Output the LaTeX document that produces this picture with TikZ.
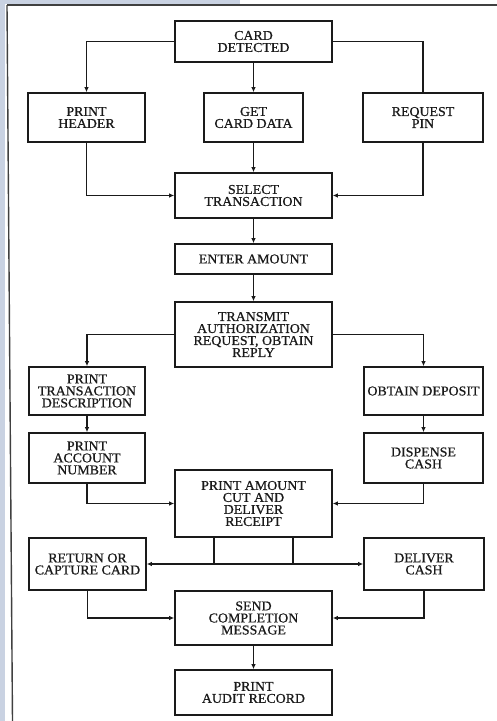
\documentclass[tikz,border=0pt]{standalone}
\usepackage{fontspec}
\newfontfamily\boxfont{Liberation Serif}[FakeBold=0.7, FakeStretch=1.03]
\usetikzlibrary{arrows.meta,calc}
\definecolor{strip}{HTML}{C9D2E2}
\definecolor{ink}{HTML}{1A1A1A}
\tikzset{
  box/.style={draw=ink, line width=1.6pt, rectangle, align=center, inner sep=0pt,
    font=\boxfont\fontsize{13.5}{12}\selectfont, text=ink},
  link/.style={draw=ink, line width=1.3pt},
  arr/.style={link, -{Latex[length=5pt,width=4.5pt]}}
}
\begin{document}
\begin{tikzpicture}[x=1pt,y=-1pt]
\useasboundingbox (0,0) rectangle (497,721);
\fill[white] (0,0) rectangle (497,721);
\fill[strip] (0,0) rectangle (5,721);
\fill[strip] (0,0) rectangle (240,4);
\draw[black!75, line width=1.4pt] (7,5) -- (497,5);
\draw[black!75, line width=1.4pt] (7,5) -- (12.5,721);

\node[box, minimum width=157pt, minimum height=41pt] (cd) at (253.5,41.5) {CARD\\DETECTED};
\node[box, minimum width=117pt, minimum height=49pt] (ph) at (86.5,117.5) {PRINT\\HEADER};
\node[box, minimum width=99pt, minimum height=49pt] (gcd) at (253.5,117.5) {GET\\CARD DATA};
\node[box, minimum width=120pt, minimum height=49pt] (rp) at (423,117.5) {REQUEST\\PIN};
\node[box, minimum width=157pt, minimum height=45pt] (st) at (253.5,195.5) {SELECT\\TRANSACTION};
\node[box, minimum width=157pt, minimum height=30pt] (ea) at (253.5,259) {ENTER AMOUNT};
\node[box, minimum width=157pt, minimum height=65pt] (tr) at (253.5,334.5) {TRANSMIT\\AUTHORIZATION\\REQUEST, OBTAIN\\REPLY};
\node[box, minimum width=116pt, minimum height=48pt] (ptd) at (87,391) {PRINT\\TRANSACTION\\DESCRIPTION};
\node[box, minimum width=119pt, minimum height=48pt] (od) at (423.5,391) {OBTAIN DEPOSIT};
\node[box, minimum width=116pt, minimum height=50pt] (pan) at (87,458) {PRINT\\ACCOUNT\\NUMBER};
\node[box, minimum width=119pt, minimum height=50pt] (dc) at (423.5,458) {DISPENSE\\CASH};
\node[box, minimum width=157pt, minimum height=67pt] (pa) at (253.5,503.5) {PRINT AMOUNT\\CUT AND\\DELIVER\\RECEIPT};
\node[box, minimum width=117pt, minimum height=52pt] (rc) at (87.5,564) {RETURN OR\\CAPTURE CARD};
\node[box, minimum width=120pt, minimum height=52pt] (dl) at (424,564) {DELIVER\\CASH};
\node[box, minimum width=157pt, minimum height=54pt] (sc) at (253.5,618) {SEND\\COMPLETION\\MESSAGE};
\node[box, minimum width=157pt, minimum height=45pt] (pr) at (253.5,692.5) {PRINT\\AUDIT RECORD};

\coordinate (h1) at (214,564);
\coordinate (h2) at (293,564);

\draw[arr] (cd.west) -| (ph.north);
\draw[arr] (cd.south) -- (gcd.north);
\draw[link] (cd.east) -| (rp.north);
\draw[arr] (ph.south) |- (st.west);
\draw[arr] (gcd.south) -- (st.north);
\draw[arr] (rp.south) |- (st.east);
\draw[arr] (st.south) -- (ea.north);
\draw[arr] (ea.south) -- (tr.north);
\draw[arr] (tr.west) -| (ptd.north);
\draw[arr] (tr.east) -| (od.north);
\draw[arr] (ptd.south) -- (pan.north);
\draw[arr] (od.south) -- (dc.north);
\draw[arr] (pan.south) |- (pa.west);
\draw[arr] (dc.south) |- (pa.east);
\draw[link] (pa.south -| h1) -- (h1);
\draw[link] (pa.south -| h2) -- (h2);
\draw[link] (h1) -- (h2);
\draw[arr] (h1) -- (rc.east);
\draw[arr] (h2) -- (dl.west);
\draw[arr] (rc.south) |- (sc.west);
\draw[arr] (dl.south) |- (sc.east);
\draw[arr] (sc.south) -- (pr.north);
\end{tikzpicture}
\end{document}
